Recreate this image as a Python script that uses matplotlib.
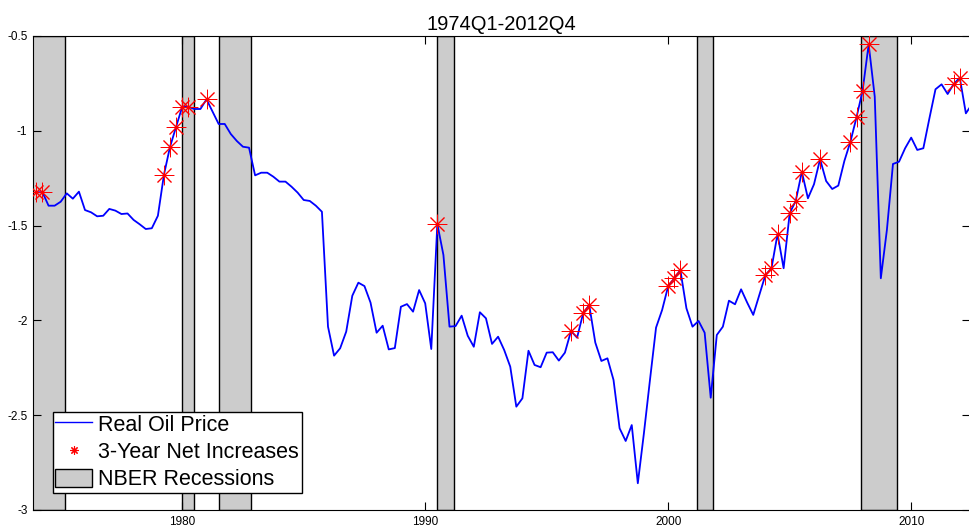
import numpy as np
import matplotlib.pyplot as plt
from matplotlib.lines import Line2D
from matplotlib.patches import Patch

plt.rcParams['font.family'] = ['Liberation Sans', 'DejaVu Sans']

# quarterly real oil price, 1974Q1 .. 2012Q4 (log scale)
oil = [
    -1.324, -1.324, -1.395, -1.395, -1.374, -1.330, -1.358, -1.321,
    -1.418, -1.430, -1.451, -1.448, -1.412, -1.421, -1.439, -1.436,
    -1.470, -1.493, -1.518, -1.514, -1.448, -1.231, -1.084, -0.978,
    -0.873, -0.873, -0.885, -0.885, -0.834, -0.899, -0.964, -0.964,
    -1.017, -1.054, -1.084, -1.089, -1.235, -1.221, -1.221, -1.242,
    -1.268, -1.268, -1.295, -1.326, -1.365, -1.370, -1.395, -1.427,
    -2.033, -2.186, -2.147, -2.059, -1.870, -1.801, -1.819, -1.906,
    -2.065, -2.028, -2.153, -2.146, -1.928, -1.914, -1.954, -1.840,
    -1.910, -2.151, -1.492, -1.655, -2.033, -2.030, -1.975, -2.081,
    -2.139, -1.957, -1.989, -2.124, -2.086, -2.156, -2.244, -2.455,
    -2.411, -2.160, -2.235, -2.247, -2.170, -2.168, -2.212, -2.170,
    -2.056, -2.091, -1.963, -1.919, -2.117, -2.214, -2.200, -2.314,
    -2.569, -2.636, -2.552, -2.859, -2.596, -2.314, -2.038, -1.945,
    -1.819, -1.778, -1.734, -1.936, -2.033, -2.003, -2.065, -2.408,
    -2.077, -2.033, -1.896, -1.915, -1.836, -1.906, -1.971, -1.866,
    -1.761, -1.725, -1.544, -1.725, -1.435, -1.369, -1.216, -1.356,
    -1.282, -1.150, -1.265, -1.307, -1.289, -1.159, -1.057, -0.929,
    -0.788, -0.544, -0.820, -1.778, -1.523, -1.175, -1.163, -1.092,
    -1.036, -1.101, -1.092, -0.934, -0.781, -0.755, -0.806, -0.753,
    -0.720, -0.908, -0.860, -0.850,
]
dates = 1974 + np.arange(len(oil)) / 4.0

# quarters with a 3-year net increase
net_inc_idx = [0, 1, 21, 22, 23, 24, 25, 28, 66, 88, 90, 91, 104, 105, 106,
               120, 121, 122, 124, 125, 126, 129, 134, 135, 136, 137, 151, 152]

# NBER recessions (start, end)
rec_start = [1973.83, 1980.0, 1981.5, 1990.5, 2001.17, 2007.92]
rec_end = [1975.17, 1980.5, 1982.83, 1991.17, 2001.83, 2009.42]

oil = np.array(oil)
inc = np.array(net_inc_idx)

fig = plt.figure(figsize=(9.69, 5.32), dpi=100)
ax = fig.add_axes([33/969, 22/532, 937/969, 474/532])

for s, e in zip(rec_start, rec_end):
    ax.axvspan(s, e, facecolor='#cccccc', edgecolor='black', linewidth=1, zorder=1)

asterisk = (8, 2, 0)
ax.plot(dates, oil, color='blue', linewidth=1.3, zorder=3)
ax.plot(dates[inc], oil[inc], linestyle='none', marker=asterisk, markersize=14,
        color='red', markeredgewidth=0.7, zorder=4)

ax.set_xlim(1973.86, 2012.42)
ax.set_ylim(-3, -0.5)
ax.set_xticks([1980, 1990, 2000, 2010])
ax.set_yticks([-3, -2.5, -2, -1.5, -1, -0.5])
ax.set_yticklabels(['-3', '-2.5', '-2', '-1.5', '-1', '-0.5'])
ax.tick_params(direction='in', length=6, width=0.8, labelsize=8.5,
               top=True, right=True, pad=4)
ax.spines['right'].set_visible(False)
for sp in ['left', 'bottom', 'top']:
    ax.spines[sp].set_linewidth(0.8)

ax.set_title('1974Q1-2012Q4', fontsize=14.5, pad=4)

handles = [
    Line2D([0], [0], color='blue', linewidth=1),
    Line2D([0], [0], linestyle='none', marker=asterisk, markersize=6,
           color='red', markeredgewidth=0.8),
    Patch(facecolor='#cccccc', edgecolor='black', linewidth=1),
]
labels = ['Real Oil Price', '3-Year Net Increases', 'NBER Recessions']
leg = ax.legend(handles, labels, loc='lower left', bbox_to_anchor=(0.021, 0.036),
                borderaxespad=0, fontsize=15.5, fancybox=False, framealpha=1,
                edgecolor='black', handlelength=1.7, handleheight=0.95,
                handletextpad=0.3, labelspacing=0.26, borderpad=0.12)
leg.get_frame().set_linewidth(1)
leg.set_zorder(5)

fig.savefig('out.png', dpi=100)
